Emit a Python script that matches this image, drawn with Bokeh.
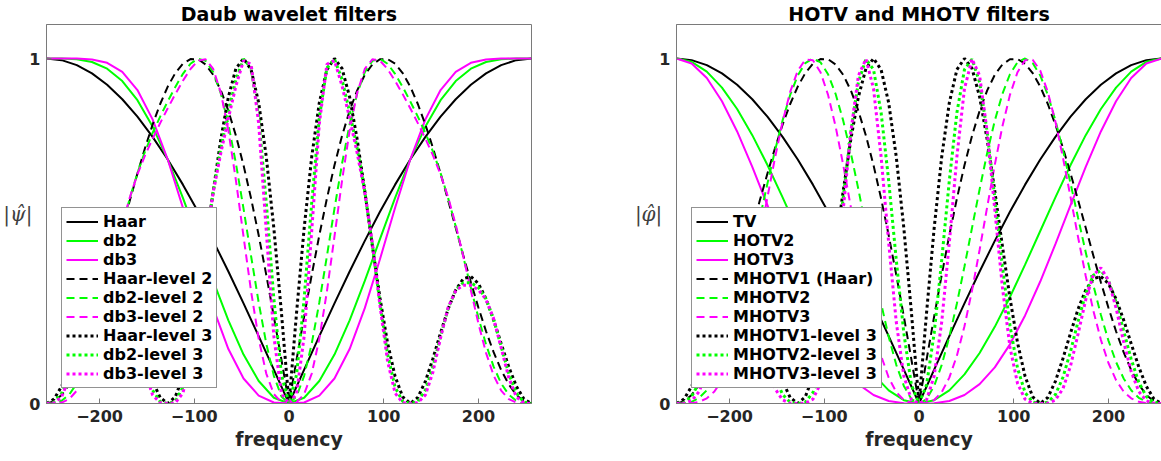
import numpy as np
from bokeh.plotting import figure
from bokeh.models import FixedTicker, Range1d, Legend, LegendItem
from bokeh.layouts import row
from bokeh.embed import file_html
from bokeh.resources import INLINE

# ---------------- data (positive half; curves are even in frequency) ----------------
freq16 = [0, 16, 32, 48, 64, 80, 96, 112, 128, 144, 160, 176, 192, 208, 224, 240, 256]
freq8 = [0, 8, 16, 24, 32, 40, 48, 56, 64, 72, 80, 88, 96, 104, 112, 120, 128,
         136, 144, 152, 160, 168, 176, 184, 192, 200, 208, 216, 224, 232, 240, 248, 256]

haar = [0, 0.0980, 0.1951, 0.2903, 0.3827, 0.4714, 0.5556, 0.6344, 0.7071, 0.7730,
        0.8315, 0.8819, 0.9239, 0.9569, 0.9808, 0.9952, 1.0]
db2 = [0, 0.0166, 0.0651, 0.1418, 0.2410, 0.3552, 0.4765, 0.5963, 0.7071, 0.8028,
       0.8792, 0.9348, 0.9705, 0.9899, 0.9979, 0.9999, 1.0]
db3 = [0, 0.0030, 0.0228, 0.0725, 0.1578, 0.2764, 0.4180, 0.5672, 0.7071, 0.8236,
       0.9085, 0.9610, 0.9875, 0.9974, 0.9998, 1.0, 1.0]
hotv2 = [0, 0.0096, 0.0381, 0.0843, 0.1464, 0.2222, 0.3087, 0.4025, 0.5, 0.5975,
         0.6913, 0.7778, 0.8536, 0.9157, 0.9619, 0.9904, 1.0]
hotv3 = [0, 0.0009, 0.0074, 0.0245, 0.0560, 0.1048, 0.1715, 0.2553, 0.3536, 0.4619,
         0.5748, 0.6859, 0.7886, 0.8763, 0.9435, 0.9856, 1.0]

haar_l2 = [0, 0.1272, 0.2522, 0.3730, 0.4876, 0.5940, 0.6906, 0.7759, 0.8486, 0.9078,
           0.9526, 0.9827, 0.9979, 0.9985, 0.9849, 0.9579, 0.9186, 0.8682, 0.8083, 0.7405,
           0.6668, 0.5890, 0.5092, 0.4293, 0.3515, 0.2776, 0.2095, 0.1488, 0.0970, 0.0553,
           0.0248, 0.0062, 0]
db2_l2 = [0, 0.0205, 0.0802, 0.1737, 0.2927, 0.4269, 0.5648, 0.6954, 0.8092, 0.8989,
          0.9605, 0.9932, 0.9996, 0.9849, 0.9555, 0.9177, 0.8759, 0.8317, 0.7842, 0.7304,
          0.6679, 0.5953, 0.5134, 0.4252, 0.3352, 0.2488, 0.1713, 0.1069, 0.0582, 0.0258,
          0.0079, 0.0010, 0]
db3_l2 = [0, 0.0036, 0.0275, 0.0868, 0.1874, 0.3245, 0.4841, 0.6463, 0.7907, 0.9011,
          0.9697, 0.9977, 0.9938, 0.9696, 0.9354, 0.8968, 0.8559, 0.8128, 0.7676, 0.7191,
          0.6640, 0.5980, 0.5183, 0.4262, 0.3275, 0.2313, 0.1469, 0.0813, 0.0373, 0.0129,
          0.0027, 0.0002, 0]
mhotv2 = [0, 0.0129, 0.0509, 0.1121, 0.1932, 0.2899, 0.3972, 0.5096, 0.6212, 0.7264,
          0.8199, 0.8971, 0.9544, 0.9891, 1.0000, 0.9869, 0.9509, 0.8944, 0.8206, 0.7336,
          0.6377, 0.5377, 0.4383, 0.3436, 0.2573, 0.1823, 0.1205, 0.0726, 0.0384, 0.0166,
          0.0050, 0.0006, 0]
mhotv3 = [0, 0.0013, 0.0101, 0.0330, 0.0750, 0.1386, 0.2239, 0.3280, 0.4457, 0.5698,
          0.6917, 0.8028, 0.8946, 0.9604, 0.9951, 0.9965, 0.9648, 0.9031, 0.8167, 0.7123,
          0.5978, 0.4812, 0.3697, 0.2695, 0.1846, 0.1174, 0.0679, 0.0347, 0.0149, 0.0049,
          0.0010, 0.0001, 0]

haar_l3 = [0, 0.2638, 0.5081, 0.7154, 0.8716, 0.9676, 1.0000, 0.9710, 0.8887, 0.7651,
           0.6158, 0.4573, 0.3061, 0.1762, 0.0785, 0.0193, 0, 0.0175, 0.0644, 0.1307,
           0.2045, 0.2741, 0.3291, 0.3619, 0.3681, 0.3474, 0.3033, 0.2424, 0.1734, 0.1061,
           0.0500, 0.0130, 0]
db2_l3 = [0, 0.0837, 0.3041, 0.5832, 0.8286, 0.9727, 0.9986, 0.9392, 0.8448, 0.7400,
          0.6149, 0.4597, 0.2910, 0.1437, 0.0470, 0.0061, 0, 0.0055, 0.0386, 0.1065,
          0.1944, 0.2755, 0.3287, 0.3500, 0.3499, 0.3361, 0.3029, 0.2436, 0.1648, 0.0865,
          0.0300, 0.0041, 0]
db3_l3 = [0, 0.0287, 0.1949, 0.5007, 0.8107, 0.9834, 0.9942, 0.9207, 0.8266, 0.7255,
          0.6122, 0.4648, 0.2847, 0.1233, 0.0301, 0.0021, 0, 0.0019, 0.0247, 0.0915,
          0.1902, 0.2786, 0.3272, 0.3431, 0.3424, 0.3294, 0.3016, 0.2463, 0.1613, 0.0743,
          0.0192, 0.0014, 0]
mhotv2_l3 = [0, 0.0539, 0.2037, 0.4165, 0.6458, 0.8430, 0.9681, 0.9980, 0.9312, 0.7863,
             0.5961, 0.3985, 0.2268, 0.1026, 0.0315, 0.0039, 0, 0.0036, 0.0258, 0.0761,
             0.1515, 0.2388, 0.3186, 0.3719, 0.3857, 0.3571, 0.2937, 0.2112, 0.1285, 0.0618,
             0.0201, 0.0026, 0]
mhotv3_l3 = [0, 0.0107, 0.0796, 0.2361, 0.4660, 0.7152, 0.9126, 0.9987, 0.9502, 0.7869,
             0.5620, 0.3380, 0.1636, 0.0582, 0.0123, 0.0008, 0, 0.0007, 0.0101, 0.0431,
             0.1093, 0.2026, 0.3004, 0.3722, 0.3936, 0.3574, 0.2768, 0.1792, 0.0927, 0.0350,
             0.0078, 0.0005, 0]

xticks = [-200, -100, 0, 100, 200]
yticks = [0, 1]

left_title = "Daub wavelet filters"
right_title = "HOTV and MHOTV filters"
left_ylabel = "|\u03c8\u0302|"
right_ylabel = "|\u03c6\u0302|"
xlabel = "frequency"

left_series = [
    ("Haar", freq16, haar, "black", "solid"),
    ("db2", freq16, db2, "green", "solid"),
    ("db3", freq16, db3, "magenta", "solid"),
    ("Haar-level 2", freq8, haar_l2, "black", "dash"),
    ("db2-level 2", freq8, db2_l2, "green", "dash"),
    ("db3-level 2", freq8, db3_l2, "magenta", "dash"),
    ("Haar-level 3", freq8, haar_l3, "black", "dot"),
    ("db2-level 3", freq8, db2_l3, "green", "dot"),
    ("db3-level 3", freq8, db3_l3, "magenta", "dot"),
]
right_series = [
    ("TV", freq16, haar, "black", "solid"),
    ("HOTV2", freq16, hotv2, "green", "solid"),
    ("HOTV3", freq16, hotv3, "magenta", "solid"),
    ("MHOTV1 (Haar)", freq8, haar_l2, "black", "dash"),
    ("MHOTV2", freq8, mhotv2, "green", "dash"),
    ("MHOTV3", freq8, mhotv3, "magenta", "dash"),
    ("MHOTV1-level 3", freq8, haar_l3, "black", "dot"),
    ("MHOTV2-level 3", freq8, mhotv2_l3, "green", "dot"),
    ("MHOTV3-level 3", freq8, mhotv3_l3, "magenta", "dot"),
]

COLORS = {"black": "#000000", "green": "#00ff00", "magenta": "#ff00ff"}
STYLES = {
    "solid": dict(line_width=2),
    "dash": dict(line_width=2, line_dash="8 5"),
    "dot": dict(line_width=3, line_dash="3 3"),
}
AX = "#7a7a7a"
TXT = "#262626"
YTOP = 1.0986


def mirror(f, v):
    f = np.asarray(f, dtype=float)
    v = np.asarray(v, dtype=float)
    return np.concatenate([-f[::-1], f[1:]]), np.concatenate([v[::-1], v[1:]])


def style_axis(ax):
    ax.major_tick_in = 5
    ax.major_tick_out = 0
    ax.minor_tick_in = 0
    ax.minor_tick_out = 0
    ax.axis_line_color = AX
    ax.major_tick_line_color = AX
    ax.major_label_text_font = "DejaVu Sans"
    ax.major_label_text_font_style = "bold"
    ax.major_label_text_color = TXT
    ax.major_label_text_font_size = "16px"
    ax.major_label_standoff = 6


def panel(title, ylab, series, left_b, right_b):
    p = figure(frame_width=485, frame_height=379,
               x_range=Range1d(-256, 256), y_range=Range1d(0, YTOP),
               output_backend="svg", toolbar_location=None,
               min_border_left=left_b, min_border_right=right_b,
               min_border_top=24, min_border_bottom=0,
               background_fill_color="white", border_fill_color="white",
               title=title)
    p.title.text_font = "DejaVu Sans"
    p.title.text_font_style = "bold"
    p.title.text_font_size = "19px"
    p.title.text_color = "#000000"
    p.title.align = "center"
    p.title.standoff = 0
    p.title.offset = 0

    p.grid.visible = False
    p.outline_line_color = AX
    p.outline_line_width = 1
    p.xaxis.ticker = FixedTicker(ticks=xticks)
    p.yaxis.ticker = FixedTicker(ticks=yticks)
    for ax in p.axis:
        style_axis(ax)
    xa = p.xaxis[0]
    xa.axis_label = xlabel
    xa.axis_label_text_font = "DejaVu Sans"
    xa.axis_label_text_font_style = "bold"
    xa.axis_label_text_font_size = "19px"
    xa.axis_label_text_color = TXT
    xa.axis_label_standoff = 3

    ya = p.yaxis[0]
    ya.axis_label = ylab
    ya.axis_label_text_font = "DejaVu Serif"
    ya.axis_label_text_font_style = "italic"
    ya.axis_label_text_font_size = "20px"
    ya.axis_label_text_color = "#404040"
    if "axis_label_orientation" in ya.properties():
        ya.axis_label_orientation = "horizontal"
    ya.axis_label_standoff = -6

    items = []
    for name, f, v, col, sty in series:
        x, y = mirror(f, v)
        r = p.line(x, y, line_color=COLORS[col], **STYLES[sty])
        items.append(LegendItem(label=name, renderers=[r]))

    leg = Legend(items=items, location="bottom_left", margin=15, padding=4,
                 spacing=0, label_height=19, glyph_height=19, glyph_width=32,
                 label_standoff=5, label_text_font="DejaVu Sans",
                 label_text_font_style="bold", label_text_font_size="16px",
                 label_text_color="#000000", border_line_color="#262626",
                 border_line_width=1, background_fill_color="white",
                 background_fill_alpha=1.0)
    p.add_layout(leg)
    return p


p1 = panel(left_title, left_ylabel, left_series, 44, 40)
p2 = panel(right_title, right_ylabel, right_series, 105, 1)
layout = row(p1, p2)

open("out.html", "w").write(file_html(layout, INLINE))
